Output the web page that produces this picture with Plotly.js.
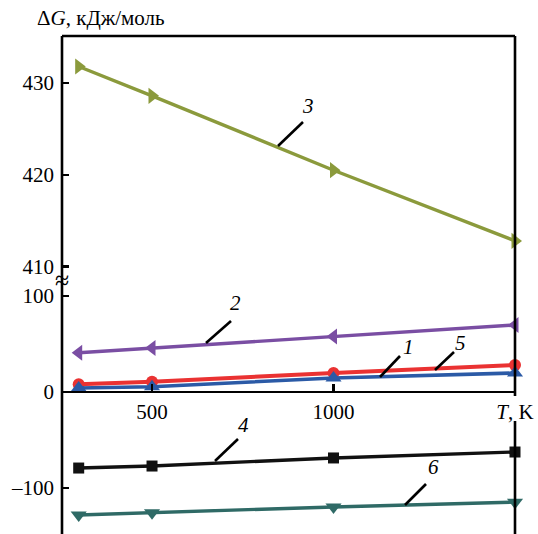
<!DOCTYPE html>
<html>
<head>
<meta charset="utf-8">
<script src="https://cdn.plot.ly/plotly-3.0.1.min.js"></script>
<style>html,body{margin:0;padding:0;background:#fff;}#chart{width:538px;height:534px;}</style>
</head>
<body>
<div id="chart"></div>
<script>
// ---- data ----
var temps = [298, 500, 1000, 1500];
var s1 = [7.8, 10.4, 19.5, 27.8];       // 1 red circles
var s2 = [40.6, 45.5, 57.5, 69.5];      // 2 purple left triangles
var s3 = [431.8, 428.6, 420.5, 412.8];  // 3 olive right triangles (upper panel)
var s4 = [-79.5, -77.4, -69.0, -62.8];  // 4 black squares
var s5 = [3.9, 5.2, 14.3, 19.5];        // 5 blue up triangles
var s6 = [-128.4, -126.0, -120.0, -115.0]; // 6 teal down triangles
var xTickVals = [500, 1000, 1500];
var xTickText = ['500', '1000', '<i>T</i>, K'];
var yUpperTicks = [410, 420, 430];
var yLowerTicks = [-100, 0, 100];
var seriesLabels = ['1', '2', '3', '4', '5', '6'];

// ---- geometry helpers (pixel -> paper) ----
var W = 538, H = 534, ML = 62, MR = 23, MT = 36, MB = 0;
var PW = W - ML - MR, PH = H - MT - MB;
function px(x) { return (x - ML) / PW; }
function py(y) { return (H - MB - y) / PH; }

var font = 'Liberation Serif, Times New Roman, serif';
var FS = 21;

function tr(y, color, symbol, size, yaxis, lw) {
  return {
    x: temps, y: y, type: 'scatter', mode: 'lines+markers',
    yaxis: yaxis, cliponaxis: false,
    line: {color: color, width: lw || 3.4},
    marker: {color: color, symbol: symbol, size: size},
    hoverinfo: 'skip', showlegend: false
  };
}

var data = [
  tr(s3, '#8b9a3c', 'triangle-right', 14, 'y2'),
  tr(s2, '#7a4ea3', 'triangle-left', 14, 'y'),
  tr(s1, '#ea3232', 'circle', 12, 'y', 4),
  tr(s5, '#2b5aa6', 'triangle-up', 14, 'y', 3.6),
  tr(s4, '#111111', 'square', 11, 'y'),
  tr(s6, '#2f6a66', 'triangle-down', 14, 'y')
];

// label positions (pixels): text, leader start, leader end
var labelPos = [
  {t: [408, 347], a: [380, 377], b: [400, 356]},
  {t: [235, 303], a: [206, 343], b: [231, 321]},
  {t: [308, 106], a: [278, 146], b: [303, 122]},
  {t: [243, 425], a: [215, 461], b: [238, 439]},
  {t: [460, 343], a: [435, 370], b: [454, 352]},
  {t: [433, 467], a: [405, 505], b: [426, 484]}
];

var annotations = [];
var shapes = [];
labelPos.forEach(function (p, i) {
  annotations.push({
    xref: 'paper', yref: 'paper', x: px(p.t[0]), y: py(p.t[1]),
    text: '<i>' + seriesLabels[i] + '</i>', showarrow: false,
    font: {family: font, size: FS, color: '#000'}, xanchor: 'center', yanchor: 'middle'
  });
  shapes.push({
    type: 'line', xref: 'paper', yref: 'paper',
    x0: px(p.a[0]), y0: py(p.a[1]), x1: px(p.b[0]), y1: py(p.b[1]),
    line: {color: '#000', width: 2.6}
  });
});

// title and break symbol
annotations.push({
  xref: 'paper', yref: 'paper', x: px(101), y: py(18),
  text: '\u0394<i>G</i>, \u043a\u0414\u0436/\u043c\u043e\u043b\u044c', showarrow: false,
  font: {family: font, size: FS, color: '#000'}, xanchor: 'center', yanchor: 'middle'
});
annotations.push({
  xref: 'paper', yref: 'paper', x: 0, y: py(280),
  text: '\u2248', showarrow: false,
  font: {family: font, size: 26, color: '#000'}, xanchor: 'center', yanchor: 'middle'
});

// frame lines
shapes.push({type: 'line', xref: 'paper', yref: 'paper', x0: 0, x1: 0, y0: 0, y1: 1, line: {color: '#000', width: 2.6}});
shapes.push({type: 'line', xref: 'paper', yref: 'paper', x0: 0, x1: 1, y0: 1, y1: 1, line: {color: '#000', width: 2.6}});
shapes.push({type: 'line', xref: 'paper', yref: 'paper', x0: 1, x1: 1, y0: py(396), y1: 1, line: {color: '#000', width: 2.6}});
shapes.push({type: 'line', xref: 'paper', yref: 'paper', x0: 1, x1: 1, y0: 0, y1: py(421), line: {color: '#000', width: 2.6}});

var layout = {
  width: W, height: H,
  margin: {l: ML, r: MR, t: MT, b: MB, pad: 0},
  paper_bgcolor: '#fff', plot_bgcolor: 'rgba(0,0,0,0)',
  font: {family: font, size: FS, color: '#000'},
  showlegend: false,
  xaxis: {
    range: [252, 1500], anchor: 'free', position: py(391.7),
    showgrid: false, zeroline: false, showline: true, linecolor: '#000', linewidth: 2.6,
    ticks: 'inside', ticklen: 7, tickwidth: 2.2, tickcolor: '#000',
    tickvals: xTickVals, ticktext: xTickText,
    tickfont: {family: font, size: FS, color: '#000'}
  },
  yaxis: {
    domain: [0, py(284)], range: [-148.2, 112.2],
    showgrid: false, zeroline: false, showline: false,
    ticks: 'inside', ticklen: 7, tickwidth: 2.2, tickcolor: '#000',
    tickvals: yLowerTicks, ticktext: ['\u2013100', '0', '100'],
    tickfont: {family: font, size: FS, color: '#000'}, ticklabelstandoff: 7
  },
  yaxis2: {
    domain: [py(272), 1], range: [409.41, 435.12], anchor: 'x',
    showgrid: false, zeroline: false, showline: false,
    ticks: 'inside', ticklen: 7, tickwidth: 2.2, tickcolor: '#000',
    tickvals: yUpperTicks,
    tickfont: {family: font, size: FS, color: '#000'}, ticklabelstandoff: 7
  },
  annotations: annotations,
  shapes: shapes
};

Plotly.newPlot('chart', data, layout, {staticPlot: true, displayModeBar: false});
</script>
</body>
</html>
